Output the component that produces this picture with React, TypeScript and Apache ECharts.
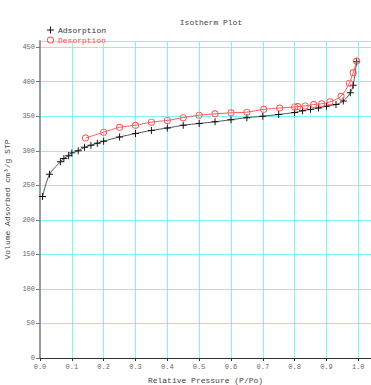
import React, { useEffect, useRef } from "react";
import * as echarts from "echarts";

// Nitrogen isotherm: relative pressure (P/Po) vs. volume adsorbed (cm³/g STP)
const adsorptionP = [
  0.008, 0.03, 0.064, 0.075, 0.09, 0.1, 0.12, 0.14, 0.16, 0.18, 0.2, 0.25, 0.3,
  0.35, 0.4, 0.45, 0.5, 0.55, 0.6, 0.65, 0.7, 0.75, 0.8, 0.825, 0.85, 0.875,
  0.9, 0.93, 0.953, 0.975, 0.984, 0.995,
];
const adsorptionV = [
  234, 266, 284, 289, 293, 297, 300, 305, 308, 311, 314, 320, 325, 329.5, 333,
  337, 339.6, 342, 345, 348, 350, 352.6, 355.5, 358, 360, 362, 364.6, 367, 372,
  384, 395, 429,
];

const desorptionP = [
  0.995, 0.984, 0.972, 0.946, 0.911, 0.885, 0.86, 0.833, 0.81, 0.8, 0.753,
  0.703, 0.65, 0.6, 0.55, 0.5, 0.45, 0.4, 0.35, 0.3, 0.25, 0.2, 0.143,
];
const desorptionV = [
  430, 413, 398, 379, 371, 368, 367, 365, 364, 363.5, 362, 360, 356, 355, 353.5,
  351.6, 348, 344, 341.5, 337, 334, 327, 318.5,
];

// Marker shapes: a thin plus and a hollow ring (hole is see-through)
const plusSymbol =
  "path://M4.3,0H5.7V4.3H10V5.7H5.7V10H4.3V5.7H0V4.3H4.3Z";
const ringSymbol =
  "path://M5,0A5,5 0 1,1 5,10A5,5 0 1,1 5,0ZM5,1.3A3.7,3.7 0 1,0 5,8.7A3.7,3.7 0 1,0 5,1.3Z";

const MONO = "'Liberation Mono', 'DejaVu Sans Mono', monospace";
const GRID_CYAN = "#7ff5f7";
const RED = "#ff4d4d";

export default function App() {
  const ref = useRef<HTMLDivElement>(null);

  useEffect(() => {
    if (!ref.current) return;
    const chart = echarts.init(ref.current, null, { renderer: "svg" });

    const pair = (xs: number[], ys: number[]) => xs.map((x, i) => [x, ys[i]]);

    chart.setOption({
      animation: false,
      backgroundColor: "#ffffff",
      title: {
        text: "Isotherm Plot",
        left: 206,
        textAlign: "center",
        top: 13,
        textStyle: {
          fontFamily: MONO,
          fontSize: 8,
          fontWeight: "normal",
          color: "#444",
        },
      },
      legend: {
        orient: "vertical",
        left: 42,
        top: 21,
        itemGap: 2,
        itemWidth: 7,
        itemHeight: 7,
        textStyle: { fontFamily: MONO, fontSize: 8, padding: [0, 0, 0, -1] },
        data: [
          {
            name: "Adsorption",
            icon: plusSymbol,
            itemStyle: { color: "#111" },
            textStyle: { color: "#333" },
          },
          {
            name: "Desorption",
            icon: ringSymbol,
            itemStyle: { color: RED, borderWidth: 0 },
            textStyle: { color: RED },
          },
        ],
      },
      grid: {
        left: 40,
        top: 41,
        right: 0,
        bottom: 27,
        containLabel: false,
        outerBoundsMode: "none",
      },
      xAxis: [
        {
          type: "value",
          min: 0,
          max: 1.04,
          interval: 0.1,
          name: "Relative Pressure (P/Po)",
          nameLocation: "middle",
          nameGap: 18,
          nameTextStyle: { fontFamily: MONO, fontSize: 8, color: "#444" },
          axisLine: { show: true, onZero: false, lineStyle: { color: "#333", width: 1 } },
          axisTick: { show: true, length: 3, lineStyle: { color: "#333" } },
          axisLabel: {
            fontFamily: MONO,
            fontSize: 7,
            color: "#666",
            margin: 5,
            showMaxLabel: false,
            formatter: (v: number) => v.toFixed(1),
          },
          splitLine: { show: true, lineStyle: { color: GRID_CYAN, width: 1 } },
        },
        {
          type: "value",
          position: "top",
          min: 0,
          max: 1.04,
          z: 5,
          axisLine: { show: true, lineStyle: { color: "#333", width: 1 } },
          axisTick: { show: false },
          axisLabel: { show: false },
          splitLine: { show: false },
        },
      ],
      yAxis: {
        type: "value",
        min: 0,
        max: 459,
        interval: 50,
        name: "Volume Adsorbed cm³/g STP",
        nameLocation: "middle",
        nameGap: 22,
        nameTextStyle: { fontFamily: MONO, fontSize: 8, color: "#444" },
        axisLine: { show: true, lineStyle: { color: "#999", width: 2 } },
        axisTick: { show: true, length: 4, lineStyle: { color: "#777" } },
        axisLabel: {
          fontFamily: MONO,
          fontSize: 7,
          color: "#666",
          margin: 5,
          showMaxLabel: false,
        },
        splitLine: { show: true, lineStyle: { color: GRID_CYAN, width: 1 } },
      },
      series: [
        {
          name: "Adsorption",
          type: "line",
          data: pair(adsorptionP, adsorptionV),
          smooth: 0.3,
          symbol: plusSymbol,
          symbolSize: 7,
          itemStyle: { color: "#111" },
          lineStyle: { color: "#555", width: 1 },
          z: 3,
        },
        {
          name: "Desorption",
          type: "line",
          data: pair(desorptionP, desorptionV),
          smooth: 0.3,
          symbol: ringSymbol,
          symbolSize: 7,
          itemStyle: { color: RED, borderWidth: 0 },
          lineStyle: { color: "#ff5a5a", width: 1 },
          z: 4,
        },
      ],
    });

    return () => chart.dispose();
  }, []);

  return (
    <div
      ref={ref}
      style={{ position: "fixed", left: 0, top: 0, width: 371, height: 385 }}
    />
  );
}
